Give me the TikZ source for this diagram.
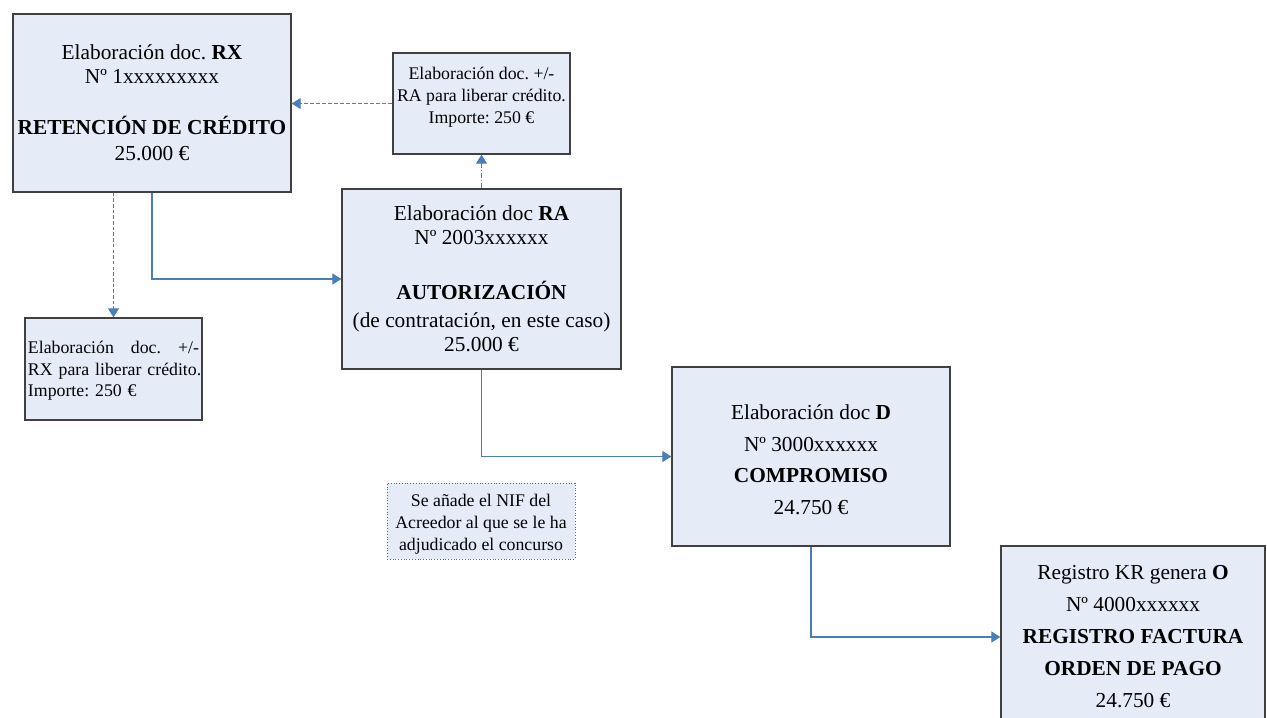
\documentclass[tikz,border=0pt]{standalone}
\usepackage{fontspec}
\setmainfont{Liberation Serif}
\frenchspacing
\usetikzlibrary{arrows.meta}
\definecolor{boxfill}{RGB}{230,236,247}
\definecolor{boxline}{RGB}{64,64,64}
\definecolor{linkblue}{RGB}{74,126,187}
\def\pxu{0.5625pt}
\tikzset{
  docbox/.style={draw=boxline, line width=1.3*\pxu, fill=boxfill, inner sep=0pt,
    align=center, font=\fontsize{12}{13.5}\selectfont},
  smallbox/.style={docbox, font=\fontsize{10}{12.1}\selectfont},
  link/.style={draw=linkblue, line width=1.1*\pxu, -{Triangle[length=9*\pxu,width=11*\pxu]}},
}

\begin{document}
\begin{tikzpicture}[x=\pxu, y=-\pxu]
  \useasboundingbox (0,0) rectangle (1267,717);
  % main documents
  \node[docbox, minimum width=278*\pxu, minimum height=178*\pxu] (rx) at (152,103)
    {Elaboración doc. \textbf{RX}\\ Nº 1xxxxxxxxx\\[15.2pt] \textbf{RETENCIÓN DE CRÉDITO}\\[1.1pt] 25.000 €};
  \node[docbox, minimum width=279*\pxu, minimum height=180*\pxu] (ra) at (481.5,279)
    {Elaboración doc \textbf{RA}\\ Nº 2003xxxxxx\\[17.4pt] \textbf{AUTORIZACIÓN}\\[2.2pt] (de contratación, en este caso)\\ 25.000 €};
  \node[docbox, font=\fontsize{12}{17.8}\selectfont, minimum width=278*\pxu, minimum height=179*\pxu] (d) at (811,456.5)
    {\rule{0pt}{12pt}Elaboración doc \textbf{D}\\ Nº 3000xxxxxx\\ \textbf{COMPROMISO}\\ 24.750 €};
  \node[docbox, font=\fontsize{12}{18}\selectfont, minimum width=264*\pxu, minimum height=182*\pxu] (o) at (1133,637)
    {Registro KR genera \textbf{O}\\ Nº 4000xxxxxx\\ \textbf{REGISTRO FACTURA}\\ \textbf{ORDEN DE PAGO}\\ 24.750 €};
  % +/- documents
  \node[smallbox, font=\fontsize{10}{12.3}\selectfont, minimum width=177*\pxu, minimum height=101*\pxu] (raa) at (481.5,103.5)
    {Elaboración doc. +/-\\ RA para liberar crédito.\\ Importe: 250 €\\[-2.8pt] \mbox{}};
  \node[smallbox, font=\fontsize{10}{12.3}\selectfont, align=left, text width=171*\pxu, minimum width=177*\pxu, minimum height=102*\pxu] (rxa) at (113.5,369)
    {\rule{0pt}{9pt}Elaboración\hfill doc.\hfill +/-\\ \mbox{RX para liberar crédito.}\\ Importe: 250 €};
  % note
  \node[smallbox, font=\fontsize{10}{12.3}\selectfont, draw=boxline!80, line width=1*\pxu, densely dotted, minimum width=188*\pxu, minimum height=76*\pxu] (nif) at (481,521)
    {\rule{0pt}{10.2pt}Se añade el NIF del\\ Acreedor al que se le ha\\ adjudicado el concurso};
  % connectors
  \draw[link] (rx.south) |- (ra.west);
  \draw[link] (ra.south) |- (d.west);
  \draw[link] (d.south) |- (o.west);
  \draw[link, dash pattern=on 2pt off 1.2pt] (rxa.north |- rx.south) -- (rxa.north);
  \draw[link, dash pattern=on 2.2pt off 1.2pt] (raa.west) -- (raa.west -| rx.east);
  \draw[link, dash pattern=on 3pt off 1pt on 0.6pt off 1pt] (ra.north) -- (raa.south);
\end{tikzpicture}
\end{document}
